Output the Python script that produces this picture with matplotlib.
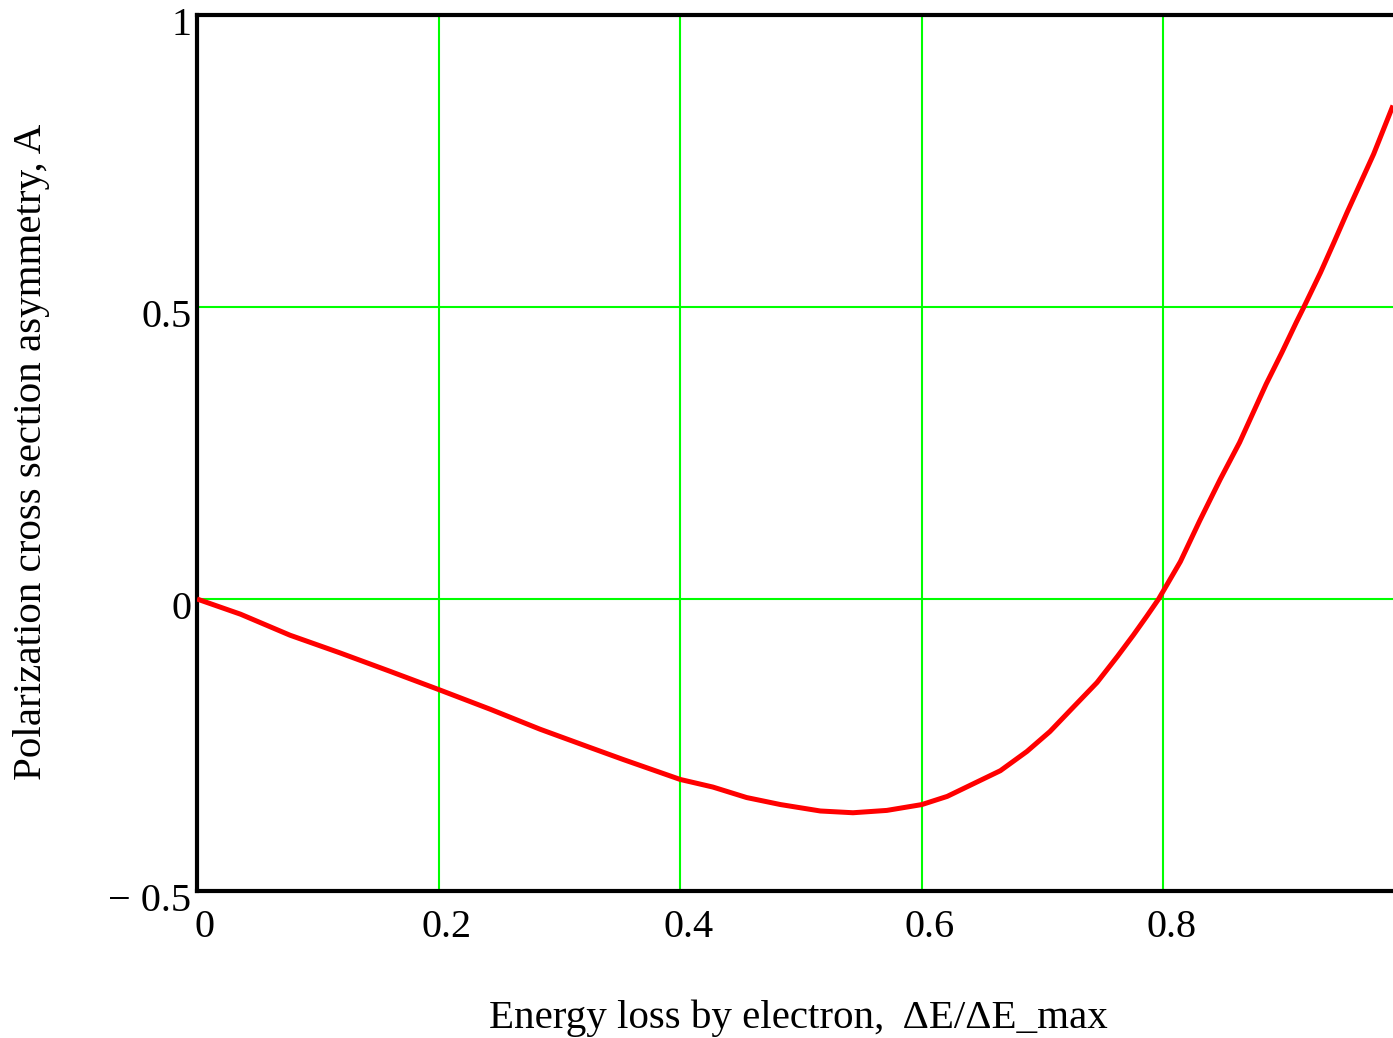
import matplotlib.pyplot as plt
import matplotlib.transforms as mtransforms


# curve (x = dE/dE_max, y = asymmetry A)
energy_loss = [0.0, 0.036, 0.077, 0.118, 0.160, 0.200, 0.243, 0.284, 0.325,
               0.353, 0.400, 0.427, 0.455, 0.483, 0.516, 0.543, 0.571, 0.600,
               0.621, 0.643, 0.665, 0.687, 0.706, 0.725, 0.745, 0.762, 0.775,
               0.786, 0.796, 0.814, 0.830, 0.847, 0.863, 0.874, 0.885, 0.898,
               0.910, 0.916, 0.930, 0.941, 0.952, 0.963, 0.974, 0.990]
asymmetry = [0.0, -0.026, -0.062, -0.092, -0.124, -0.155, -0.189, -0.223,
             -0.254, -0.275, -0.309, -0.322, -0.340, -0.352, -0.363, -0.366,
             -0.362, -0.352, -0.338, -0.316, -0.294, -0.261, -0.227, -0.186,
             -0.143, -0.098, -0.062, -0.030, 0.0, 0.064, 0.134, 0.205, 0.268,
             0.318, 0.368, 0.422, 0.474, 0.499, 0.559, 0.610, 0.662, 0.712,
             0.762, 0.845]

x_ticks = [0, 0.2, 0.4, 0.6, 0.8]
x_ticklabels = ["0", "0.2", "0.4", "0.6", "0.8"]
y_ticks = [-0.5, 0, 0.5, 1]
y_ticklabels = ["\u2212 0.5", "0", "0.5", "1"]

plt.rcParams["font.family"] = ["Liberation Serif", "DejaVu Serif"]

fig = plt.figure(figsize=(13.93, 10.38), dpi=100)
ax = fig.add_axes([197 / 1393, 147 / 1038, 1196 / 1393, 876 / 1038])

ax.plot(energy_loss, asymmetry, color="#ff0000", lw=3.6,
        solid_capstyle="butt", zorder=3)

ax.set_xlim(0, 0.990)
ax.set_ylim(-0.5, 1)

ax.set_xticks(x_ticks)
ax.set_xticklabels(x_ticklabels)
ax.set_yticks(y_ticks)
ax.set_yticklabels(y_ticklabels)
ax.tick_params(length=0, labelsize=29)
ax.tick_params(axis="x", pad=13)
ax.tick_params(axis="y", pad=4)

# Mathcad-style label offsets
dx = mtransforms.ScaledTranslation(8 / 100, 0, fig.dpi_scale_trans)
for lbl in ax.get_xticklabels():
    lbl.set_transform(lbl.get_transform() + dx)
dy = mtransforms.ScaledTranslation(0, -6 / 100, fig.dpi_scale_trans)
for lbl in ax.get_yticklabels():
    lbl.set_transform(lbl.get_transform() + dy)

ax.grid(True, color="#00ff00", lw=1.5)
ax.set_axisbelow(True)

for side in ["left", "bottom", "top"]:
    ax.spines[side].set_linewidth(3)
    ax.spines[side].set_color("black")
ax.spines["right"].set_visible(False)

fig.text(798 / 1393, 1 - 1018 / 1038,
         "Energy loss by electron,  \u0394E/\u0394E_max",
         ha="center", va="center", fontsize=29.5)
fig.text(32 / 1393, 1 - 452 / 1038,
         "Polarization cross section asymmetry, A",
         ha="center", va="center", rotation=90, fontsize=29.5)

fig.savefig("out.png", dpi=100)
